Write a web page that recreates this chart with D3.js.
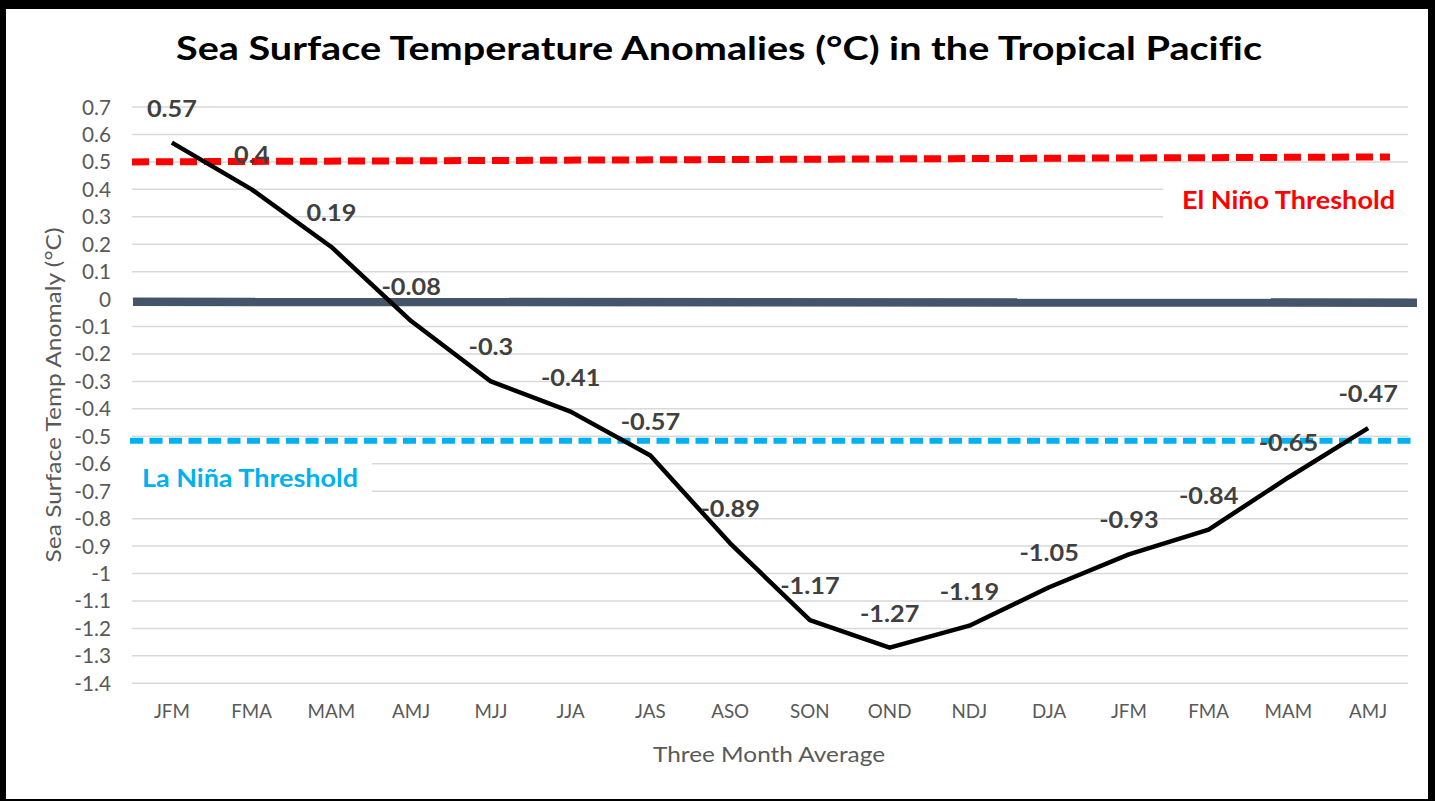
<!DOCTYPE html>
<html><head><meta charset="utf-8">
<script src="https://cdn.jsdelivr.net/npm/d3@7"></script>
<style>
html,body{margin:0;padding:0;background:#000;}
svg{display:block;}
text{font-family:Lato,"Open Sans",sans-serif;font-variant-ligatures:none;font-feature-settings:"liga" 0;}
</style></head>
<body><svg id="chart" width="1435" height="801"></svg>
<script>
// ---- data ----
const categories = ["JFM","FMA","MAM","AMJ","MJJ","JJA","JAS","ASO","SON","OND","NDJ","DJA","JFM","FMA","MAM","AMJ"];
const anomalies = [0.57,0.4,0.19,-0.08,-0.3,-0.41,-0.57,-0.89,-1.17,-1.27,-1.19,-1.05,-0.93,-0.84,-0.65,-0.47];
const yTicks = [0.7,0.6,0.5,0.4,0.3,0.2,0.1,0,-0.1,-0.2,-0.3,-0.4,-0.5,-0.6,-0.7,-0.8,-0.9,-1,-1.1,-1.2,-1.3,-1.4];
const elNinoLine = [0.5, 0.518];     // value at left end, right end
const zeroLine = [-0.01, -0.013];
const laNinaLine = [-0.516, -0.516];
const titleText = "Sea Surface Temperature Anomalies (°C) in the Tropical Pacific";
const yTitle = "Sea Surface Temp Anomaly (°C)";
const xTitle = "Three Month Average";
const elNinoLabel = "El Niño Threshold";
const laNinaLabel = "La Niña Threshold";

// ---- layout ----
const svg = d3.select("#chart");
svg.append("rect").attr("x",6).attr("y",9).attr("width",1422).attr("height",790).attr("fill","#fff");

const plotL = 132, plotR = 1408;
const x = d3.scaleBand().domain(d3.range(categories.length)).range([plotL, plotR]);
const y = d3.scaleLinear().domain([-1.4, 0.7]).range([683.3, 107]);
const xc = i => x(i) + x.bandwidth()/2;
const fmt = d => String(d); // plain hyphen-minus like the reference

function fitText(sel, width){
  sel.each(function(){
    const w = this.getComputedTextLength();
    if (w > 0) { this.setAttribute("textLength", width); this.setAttribute("lengthAdjust","spacingAndGlyphs"); }
  });
}
function scaleX(refStr, refWidth, fontSize, weight){
  const t = svg.append("text").attr("font-size",fontSize).attr("font-weight",weight).text(refStr);
  const w = t.node().getComputedTextLength(); t.remove();
  return refWidth / w;
}

// gridlines
svg.append("g").selectAll("line").data(yTicks).join("line")
  .attr("x1",plotL).attr("x2",plotR)
  .attr("y1",d=>y(d)).attr("y2",d=>y(d))
  .attr("stroke","#d9d9d9").attr("stroke-width",1.5);

// y tick labels
const tickSx = scaleX("0.7", 29, 21, 400);
svg.append("g").selectAll("text").data(yTicks).join("text")
  .attr("transform", d => `translate(111,${y(d)+7.5}) scale(${tickSx},1)`)
  .attr("text-anchor","end").attr("font-size",21).attr("fill","#595959")
  .text(fmt);

// x labels
const xSx = scaleX("JFM", 36, 20, 400);
svg.append("g").selectAll("text").data(categories).join("text")
  .attr("transform", (d,i) => `translate(${xc(i)},718) scale(${xSx},1)`)
  .attr("text-anchor","middle").attr("font-size",20).attr("fill","#595959")
  .text(d => d);

// threshold label boxes (white background over gridlines)
svg.append("rect").attr("x",1163).attr("y",172).attr("width",plotR-1163+2).attr("height",58).attr("fill","#fff");
svg.append("rect").attr("x",128).attr("y",450).attr("width",372-128).attr("height",54).attr("fill","#fff");

// El Nino threshold (red dashed)
svg.append("line")
  .attr("x1",132).attr("x2",1390)
  .attr("y1",y(elNinoLine[0])).attr("y2",y(elNinoLine[1]))
  .attr("stroke","#ff0000").attr("stroke-width",7).attr("stroke-dasharray","17,7");
// La Nina threshold (blue dashed)
svg.append("line")
  .attr("x1",130).attr("x2",1413)
  .attr("y1",y(laNinaLine[0])).attr("y2",y(laNinaLine[1]))
  .attr("stroke","#00b0f0").attr("stroke-width",6).attr("stroke-dasharray","13,6.5");
// zero line
svg.append("line")
  .attr("x1",133).attr("x2",1417)
  .attr("y1",y(zeroLine[0])).attr("y2",y(zeroLine[1]))
  .attr("stroke","#44546a").attr("stroke-width",8.5);

// threshold labels
svg.append("text").attr("x",1182).attr("y",209).attr("font-size",24).attr("font-weight",700)
  .attr("fill","#ff0000").text(elNinoLabel).call(fitText, 213);
svg.append("text").attr("x",142).attr("y",487).attr("font-size",24).attr("font-weight",700)
  .attr("fill","#00b0f0").text(laNinaLabel).call(fitText, 216);

// series line
const line = d3.line().x((d,i)=>xc(i)).y(d=>y(d));
svg.append("path").datum(anomalies).attr("d",line)
  .attr("fill","none").attr("stroke","#000").attr("stroke-width",4.5)
  .attr("stroke-linejoin","round");

// data labels
const lblSx = scaleX("0.57", 50, 22, 700);
svg.append("g").selectAll("text").data(anomalies).join("text")
  .attr("transform",(d,i)=>`translate(${xc(i)},${y(d)-26}) scale(${lblSx},1)`)
  .attr("text-anchor","middle").attr("font-size",22).attr("font-weight",700)
  .attr("fill","#404040").text(fmt);

// title
svg.append("text").attr("x",719).attr("y",60).attr("text-anchor","middle")
  .attr("font-size",32).attr("font-weight",700).attr("fill","#000")
  .text(titleText).call(fitText, 1086);

// axis titles
svg.append("text").attr("x",769).attr("y",762).attr("text-anchor","middle")
  .attr("font-size",22).attr("fill","#595959").text(xTitle).call(fitText, 232);
svg.append("text").attr("transform","translate(61,395) rotate(-90)").attr("text-anchor","middle")
  .attr("font-size",21).attr("fill","#595959").text(yTitle).call(fitText, 335);
</script></body></html>
